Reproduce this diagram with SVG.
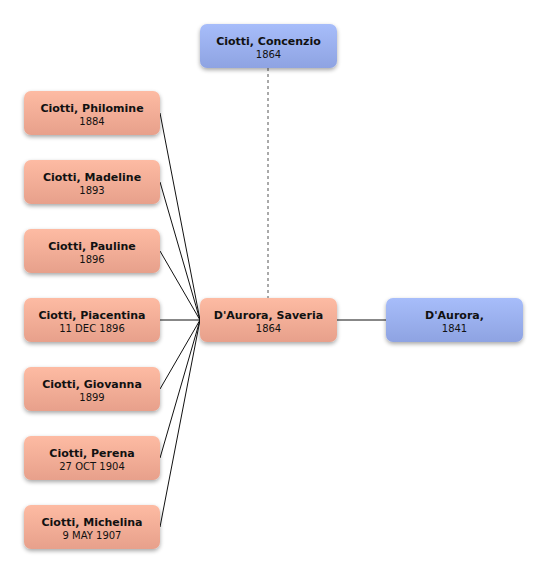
<svg xmlns="http://www.w3.org/2000/svg" width="546" height="574" viewBox="0 0 546 574">
<defs>
<linearGradient id="gs" x1="0" y1="0" x2="0" y2="1"><stop offset="0" stop-color="#fdbba3"/><stop offset="1" stop-color="#e7a08b"/></linearGradient>
<linearGradient id="gb" x1="0" y1="0" x2="0" y2="1"><stop offset="0" stop-color="#a7bdfa"/><stop offset="1" stop-color="#8ea3e2"/></linearGradient>
<filter id="sh" x="-20%" y="-30%" width="140%" height="170%"><feGaussianBlur in="SourceAlpha" stdDeviation="2"/><feOffset dy="2"/><feComponentTransfer><feFuncA type="linear" slope="0.35"/></feComponentTransfer><feMerge><feMergeNode/><feMergeNode in="SourceGraphic"/></feMerge></filter>
</defs>
<style>
.s{fill:url(#gs);filter:url(#sh)}
.b{fill:url(#gb);filter:url(#sh)}
.n{font-family:"DejaVu Sans","Liberation Sans",sans-serif;font-weight:bold;font-size:11px;fill:#111;text-anchor:middle}
.d{font-family:"DejaVu Sans","Liberation Sans",sans-serif;font-size:10px;fill:#111;text-anchor:middle}
.c{stroke:#111;stroke-width:1;fill:none}
</style>
<g id="connectors">
<line x1="268" y1="68" x2="268" y2="298" stroke="#555" stroke-width="1" stroke-dasharray="3,3"/>
<line class="c" x1="337" y1="320" x2="386" y2="320"/>
<line class="c" x1="160" y1="113" x2="200" y2="320"/>
<line class="c" x1="160" y1="182" x2="200" y2="320"/>
<line class="c" x1="160" y1="251" x2="200" y2="320"/>
<line class="c" x1="160" y1="320" x2="200" y2="320"/>
<line class="c" x1="160" y1="389" x2="200" y2="320"/>
<line class="c" x1="160" y1="458" x2="200" y2="320"/>
<line class="c" x1="160" y1="527" x2="200" y2="320"/>
</g>
<g id="concenzio"><rect class="b" x="200" y="24" width="137" height="44" rx="7"/><text class="n" x="268.5" y="45">Ciotti, Concenzio</text><text class="d" x="268.5" y="58">1864</text></g>
<g id="saveria"><rect class="s" x="200" y="298" width="137" height="44" rx="7"/><text class="n" x="268.5" y="319">D'Aurora, Saveria</text><text class="d" x="268.5" y="332">1864</text></g>
<g id="daurora"><rect class="b" x="386" y="298" width="137" height="44" rx="7"/><text class="n" x="454.5" y="319">D'Aurora,</text><text class="d" x="454.5" y="332">1841</text></g>
<g id="philomine"><rect class="s" x="24" y="91" width="136" height="44" rx="7"/><text class="n" x="92" y="112">Ciotti, Philomine</text><text class="d" x="92" y="125">1884</text></g>
<g id="madeline"><rect class="s" x="24" y="160" width="136" height="44" rx="7"/><text class="n" x="92" y="181">Ciotti, Madeline</text><text class="d" x="92" y="194">1893</text></g>
<g id="pauline"><rect class="s" x="24" y="229" width="136" height="44" rx="7"/><text class="n" x="92" y="250">Ciotti, Pauline</text><text class="d" x="92" y="263">1896</text></g>
<g id="piacentina"><rect class="s" x="24" y="298" width="136" height="44" rx="7"/><text class="n" x="92" y="319">Ciotti, Piacentina</text><text class="d" x="92" y="332">11 DEC 1896</text></g>
<g id="giovanna"><rect class="s" x="24" y="367" width="136" height="44" rx="7"/><text class="n" x="92" y="388">Ciotti, Giovanna</text><text class="d" x="92" y="401">1899</text></g>
<g id="perena"><rect class="s" x="24" y="436" width="136" height="44" rx="7"/><text class="n" x="92" y="457">Ciotti, Perena</text><text class="d" x="92" y="470">27 OCT 1904</text></g>
<g id="michelina"><rect class="s" x="24" y="505" width="136" height="44" rx="7"/><text class="n" x="92" y="526">Ciotti, Michelina</text><text class="d" x="92" y="539">9 MAY 1907</text></g>
</svg>
